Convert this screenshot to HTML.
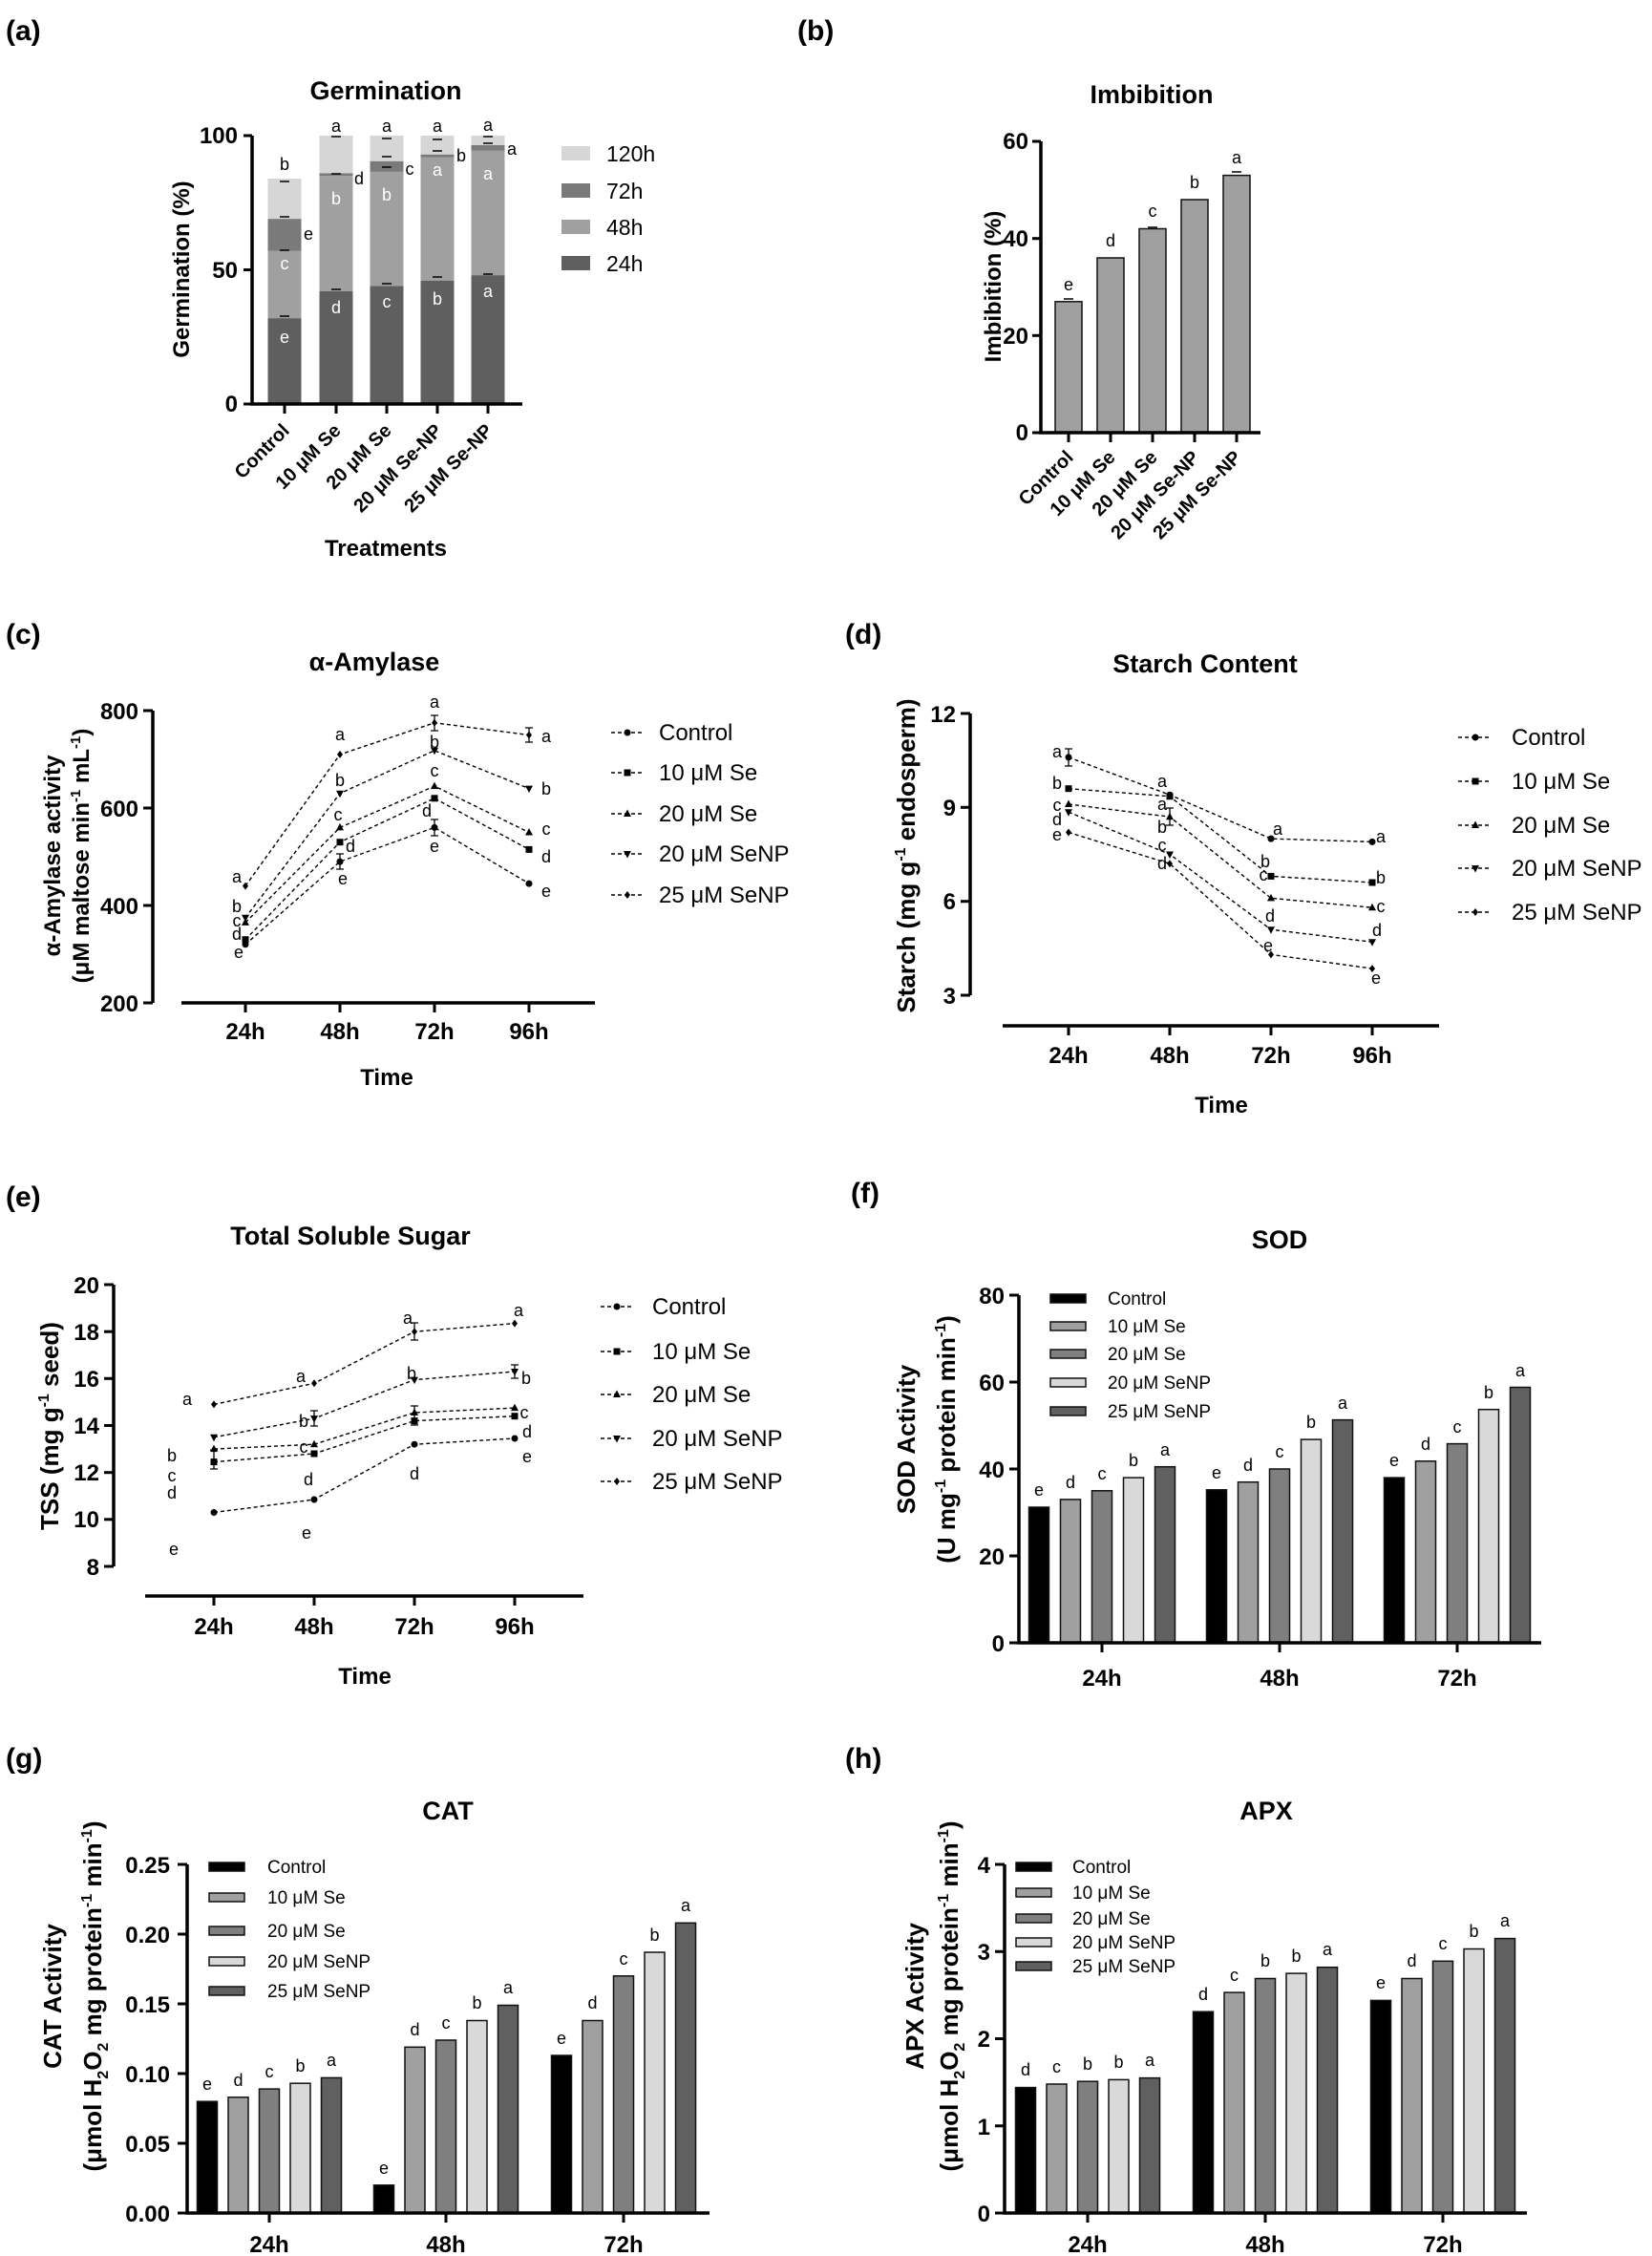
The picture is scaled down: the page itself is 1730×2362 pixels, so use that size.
<!DOCTYPE html>
<html><head><meta charset="utf-8"><style>
html,body{margin:0;padding:0;background:#fff}
svg{display:block;font-family:"Liberation Sans",Arial,sans-serif}
.ax{stroke:#000;stroke-width:3.5;fill:none}
.tk{font-size:24px;font-weight:bold}
.ti{font-size:27px;font-weight:bold;text-anchor:middle}
.yl{font-size:24px;font-weight:bold;text-anchor:middle}
.pl{font-size:30px;font-weight:bold}
.lt{font-size:18px}
.lg{font-size:24px}
.ls{font-size:19px}
.xr{font-size:20px;font-weight:bold;text-anchor:end}
.dl{stroke:#000;stroke-width:1.4;stroke-dasharray:4,3;fill:none}
.c0{fill:#000;stroke:#111;stroke-width:1.5}
.c1{fill:#a0a0a0;stroke:#111;stroke-width:1.5}
.c2{fill:#7f7f7f;stroke:#111;stroke-width:1.5}
.c3{fill:#d9d9d9;stroke:#111;stroke-width:1.5}
.c4{fill:#606060;stroke:#111;stroke-width:1.5}
.w{fill:#fff}
</style></head><body>
<svg width="1730" height="2362" viewBox="0 0 1730 2362" xmlns="http://www.w3.org/2000/svg">
<defs>
<circle id="m0" r="3.5" cx="0" cy="0"/>
<rect id="m1" x="-3.5" y="-3.5" width="7" height="7"/>
<polygon id="m2" points="0,-4.5 4,3 -4,3"/>
<polygon id="m3" points="0,4.5 4,-3 -4,-3"/>
<polygon id="m4" points="0,-4 3,0 0,4 -3,0"/>
</defs>
<rect width="1730" height="2362" fill="#fff"/>

<!-- ============ (a) ============ -->
<text class="pl" x="6" y="42">(a)</text>
<text class="ti" x="404" y="104">Germination</text>
<g>
<!-- Control -->
<rect x="280.5" y="333.1" width="35" height="89.9" fill="#5f5f5f"/>
<rect x="280.5" y="262.8" width="35" height="70.3" fill="#a0a0a0"/>
<rect x="280.5" y="229.1" width="35" height="33.7" fill="#7a7a7a"/>
<rect x="280.5" y="187" width="35" height="42.1" fill="#d6d6d6"/>
<!-- 10 Se -->
<rect x="334.5" y="305" width="35" height="118" fill="#5f5f5f"/>
<rect x="334.5" y="184.2" width="35" height="120.8" fill="#a0a0a0"/>
<rect x="334.5" y="181.3" width="35" height="2.9" fill="#7a7a7a"/>
<rect x="334.5" y="142" width="35" height="39.3" fill="#d6d6d6"/>
<!-- 20 Se -->
<rect x="387.5" y="299.4" width="35" height="123.6" fill="#5f5f5f"/>
<rect x="387.5" y="179.9" width="35" height="119.5" fill="#a0a0a0"/>
<rect x="387.5" y="168.7" width="35" height="11.2" fill="#7a7a7a"/>
<rect x="387.5" y="142" width="35" height="26.7" fill="#d6d6d6"/>
<!-- 20 Se-NP -->
<rect x="440.5" y="293.7" width="35" height="129.3" fill="#5f5f5f"/>
<rect x="440.5" y="164.5" width="35" height="129.2" fill="#a0a0a0"/>
<rect x="440.5" y="161.7" width="35" height="2.8" fill="#7a7a7a"/>
<rect x="440.5" y="142" width="35" height="19.7" fill="#d6d6d6"/>
<!-- 25 Se-NP -->
<rect x="493.5" y="288.1" width="35" height="134.9" fill="#5f5f5f"/>
<rect x="493.5" y="157.5" width="35" height="130.6" fill="#a0a0a0"/>
<rect x="493.5" y="151.8" width="35" height="5.7" fill="#7a7a7a"/>
<rect x="493.5" y="142" width="35" height="9.8" fill="#d6d6d6"/>
<g stroke="#000" stroke-width="1.5">
<line x1="293" y1="331" x2="303" y2="331"/><line x1="293" y1="262" x2="303" y2="262"/><line x1="293" y1="227" x2="303" y2="227"/><line x1="293" y1="190" x2="303" y2="190"/>
<line x1="347" y1="303" x2="357" y2="303"/><line x1="347" y1="182" x2="357" y2="182"/><line x1="347" y1="143" x2="357" y2="143"/>
<line x1="400" y1="297" x2="410" y2="297"/><line x1="400" y1="175" x2="410" y2="175"/><line x1="400" y1="164" x2="410" y2="164"/><line x1="400" y1="145" x2="410" y2="145"/>
<line x1="453" y1="290" x2="463" y2="290"/><line x1="453" y1="158" x2="463" y2="158"/><line x1="453" y1="146" x2="463" y2="146"/>
<line x1="506" y1="287" x2="516" y2="287"/><line x1="506" y1="150" x2="516" y2="150"/><line x1="506" y1="143" x2="516" y2="143"/>
</g>
<g class="lt" text-anchor="middle">
<text class="w" x="298" y="359">e</text><text class="w" x="352" y="328">d</text><text class="w" x="405" y="322">c</text><text class="w" x="458" y="319">b</text><text class="w" x="511" y="311">a</text>
<text class="w" x="298" y="282">c</text><text class="w" x="352" y="214">b</text><text class="w" x="405" y="210">b</text><text class="w" x="458" y="184">a</text><text class="w" x="511" y="188">a</text>
<text x="323" y="251">e</text><text x="376" y="193">d</text><text x="429" y="183">c</text><text x="483" y="169">b</text><text x="536" y="162">a</text>
<text x="298" y="178">b</text><text x="352" y="138">a</text><text x="405" y="138">a</text><text x="458" y="138">a</text><text x="511" y="137">a</text>
</g>
</g>
<path class="ax" d="M264,142 V423 H547"/>
<g stroke="#000" stroke-width="3"><line x1="255" y1="142" x2="264" y2="142"/><line x1="255" y1="282.5" x2="264" y2="282.5"/><line x1="255" y1="423" x2="264" y2="423"/>
<line x1="298" y1="423" x2="298" y2="433"/><line x1="352" y1="423" x2="352" y2="433"/><line x1="405" y1="423" x2="405" y2="433"/><line x1="458" y1="423" x2="458" y2="433"/><line x1="511" y1="423" x2="511" y2="433"/></g>
<g class="tk" text-anchor="end"><text x="249" y="150">100</text><text x="249" y="291">50</text><text x="249" y="431">0</text></g>
<text class="yl" transform="translate(198,282) rotate(-90)">Germination (%)</text>
<g class="xr">
<text transform="translate(304,452) rotate(-45)">Control</text>
<text transform="translate(358,452) rotate(-45)">10 μM Se</text>
<text transform="translate(411,452) rotate(-45)">20 μM Se</text>
<text transform="translate(464,452) rotate(-45)">20 μM Se-NP</text>
<text transform="translate(517,452) rotate(-45)">25 μM Se-NP</text>
</g>
<text class="yl" x="404" y="582">Treatments</text>
<rect x="588" y="153" width="30" height="15" fill="#d6d6d6"/>
<rect x="588" y="192" width="30" height="15" fill="#7a7a7a"/>
<rect x="588" y="230" width="30" height="15" fill="#a0a0a0"/>
<rect x="588" y="268" width="30" height="15" fill="#5f5f5f"/>
<g style="font-size:23px"><text x="635" y="169">120h</text><text x="635" y="208">72h</text><text x="635" y="246">48h</text><text x="635" y="284">24h</text></g>

<!-- ============ (b) ============ -->
<text class="pl" x="835" y="42">(b)</text>
<text class="ti" x="1206" y="108">Imbibition</text>
<rect class="c1" x="1105" y="315.8" width="28" height="137.2"/>
<rect class="c1" x="1149" y="270" width="28" height="183"/>
<rect class="c1" x="1193" y="239.5" width="28" height="213.5"/>
<rect class="c1" x="1237" y="209" width="28" height="244"/>
<rect class="c1" x="1281" y="183.6" width="28" height="269.4"/>
<g stroke="#000" stroke-width="1.5"><line x1="1114" y1="313" x2="1124" y2="313"/><line x1="1290" y1="180" x2="1300" y2="180"/><line x1="1202" y1="238" x2="1212" y2="238"/></g>
<g class="lt" text-anchor="middle"><text x="1119" y="304">e</text><text x="1163" y="258">d</text><text x="1207" y="227">c</text><text x="1251" y="197">b</text><text x="1295" y="171">a</text></g>
<path class="ax" d="M1090,148 V453 H1320"/>
<g stroke="#000" stroke-width="3"><line x1="1081" y1="148" x2="1090" y2="148"/><line x1="1081" y1="249.7" x2="1090" y2="249.7"/><line x1="1081" y1="351.3" x2="1090" y2="351.3"/><line x1="1081" y1="453" x2="1090" y2="453"/>
<line x1="1119" y1="453" x2="1119" y2="463"/><line x1="1163" y1="453" x2="1163" y2="463"/><line x1="1207" y1="453" x2="1207" y2="463"/><line x1="1251" y1="453" x2="1251" y2="463"/><line x1="1295" y1="453" x2="1295" y2="463"/></g>
<g class="tk" text-anchor="end"><text x="1077" y="156">60</text><text x="1077" y="258">40</text><text x="1077" y="360">20</text><text x="1077" y="461">0</text></g>
<text class="yl" transform="translate(1048,300) rotate(-90)">Imbibition (%)</text>
<g class="xr">
<text transform="translate(1125,480) rotate(-45)">Control</text>
<text transform="translate(1169,480) rotate(-45)">10 μM Se</text>
<text transform="translate(1213,480) rotate(-45)">20 μM Se</text>
<text transform="translate(1257,480) rotate(-45)">20 μM Se-NP</text>
<text transform="translate(1301,480) rotate(-45)">25 μM Se-NP</text>
</g>

<!-- ============ (c) ============ -->
<text class="pl" x="6" y="674">(c)</text>
<text class="ti" x="392" y="702">α-Amylase</text>
<polyline class="dl" points="257,988.8 356,902.1 455,866.4 554,925.1"/>
<polyline class="dl" points="257,983.7 356,881.7 455,835.8 554,889.4"/>
<polyline class="dl" points="257,965.9 356,866.4 455,823.1 554,871.5"/>
<polyline class="dl" points="257,960.8 356,830.7 455,785.8 554,825.6"/>
<polyline class="dl" points="257,927.6 356,789.9 455,756.8 554,769.5"/>
<g>
<use href="#m0" x="257" y="988.8"/><use href="#m0" x="356" y="902.1"/><use href="#m0" x="455" y="866.4"/><use href="#m0" x="554" y="925.1"/>
<use href="#m1" x="257" y="983.7"/><use href="#m1" x="356" y="881.7"/><use href="#m1" x="455" y="835.8"/><use href="#m1" x="554" y="889.4"/>
<use href="#m2" x="257" y="965.9"/><use href="#m2" x="356" y="866.4"/><use href="#m2" x="455" y="823.1"/><use href="#m2" x="554" y="871.5"/>
<use href="#m3" x="257" y="960.8"/><use href="#m3" x="356" y="830.7"/><use href="#m3" x="455" y="785.8"/><use href="#m3" x="554" y="825.6"/>
<use href="#m4" x="257" y="927.6"/><use href="#m4" x="356" y="789.9"/><use href="#m4" x="455" y="756.8"/><use href="#m4" x="554" y="769.5"/>
</g>
<g stroke="#000" stroke-width="1.3" fill="none">
<path d="M451,749 h8 M455,749 v16 M451,765 h8"/><path d="M550,762 h8 M554,762 v15 M550,777 h8"/><path d="M352,894 h8 M356,894 v16 M352,910 h8"/><path d="M451,858 h8 M455,858 v17 M451,875 h8"/>
</g>
<g class="lt" text-anchor="middle">
<text x="248" y="924">a</text><text x="248" y="955">b</text><text x="248" y="970">c</text><text x="248" y="984">d</text><text x="250" y="1003">e</text>
<text x="356" y="775">a</text><text x="356" y="823">b</text><text x="354" y="859">c</text><text x="367" y="892">d</text><text x="359" y="926">e</text>
<text x="455" y="741">a</text><text x="455" y="783">b</text><text x="455" y="813">c</text><text x="447" y="855">d</text><text x="455" y="892">e</text>
<text x="572" y="777">a</text><text x="572" y="832">b</text><text x="572" y="874">c</text><text x="572" y="903">d</text><text x="572" y="939">e</text>
</g>
<path class="ax" d="M160,744 V1050 M190,1050 H623"/>
<g stroke="#000" stroke-width="3"><line x1="150" y1="744" x2="160" y2="744"/><line x1="150" y1="846" x2="160" y2="846"/><line x1="150" y1="948" x2="160" y2="948"/><line x1="150" y1="1050" x2="160" y2="1050"/>
<line x1="257" y1="1050" x2="257" y2="1060"/><line x1="356" y1="1050" x2="356" y2="1060"/><line x1="455" y1="1050" x2="455" y2="1060"/><line x1="554" y1="1050" x2="554" y2="1060"/></g>
<g class="tk" text-anchor="end"><text x="145" y="753">800</text><text x="145" y="855">600</text><text x="145" y="957">400</text><text x="145" y="1059">200</text></g>
<g class="tk" text-anchor="middle"><text x="257" y="1088">24h</text><text x="356" y="1088">48h</text><text x="455" y="1088">72h</text><text x="554" y="1088">96h</text></g>
<text class="yl" x="405" y="1136">Time</text>
<text class="yl" transform="translate(63,896) rotate(-90)">α-Amylase activity</text>
<text class="yl" transform="translate(93,896) rotate(-90)">(μM maltose min<tspan font-size="15" dy="-9">-1</tspan><tspan dy="9"> mL</tspan><tspan font-size="15" dy="-9">-1</tspan><tspan dy="9">)</tspan></text>
<g class="dl"><line x1="640" y1="767" x2="675" y2="767"/><line x1="640" y1="809" x2="675" y2="809"/><line x1="640" y1="852" x2="675" y2="852"/><line x1="640" y1="894" x2="675" y2="894"/><line x1="640" y1="937" x2="675" y2="937"/></g>
<use href="#m0" x="657" y="767"/><use href="#m1" x="657" y="809"/><use href="#m2" x="657" y="852"/><use href="#m3" x="657" y="894"/><use href="#m4" x="657" y="937"/>
<g class="lg"><text x="690" y="775">Control</text><text x="690" y="817">10 μM Se</text><text x="690" y="860">20 μM Se</text><text x="690" y="902">20 μM SeNP</text><text x="690" y="945">25 μM SeNP</text></g>

<!-- ============ (d) ============ -->
<text class="pl" x="885" y="674">(d)</text>
<text class="ti" x="1262" y="704">Starch Content</text>
<polyline class="dl" points="1119,792.9 1225,832.2 1331,878.1 1437,881.4"/>
<polyline class="dl" points="1119,825.7 1225,833.8 1331,917.4 1437,924"/>
<polyline class="dl" points="1119,842 1225,855.2 1331,940.4 1437,950.2"/>
<polyline class="dl" points="1119,850.2 1225,894.5 1331,973.2 1437,986.3"/>
<polyline class="dl" points="1119,871.5 1225,904.3 1331,999.4 1437,1014.1"/>
<g>
<use href="#m0" x="1119" y="792.9"/><use href="#m0" x="1225" y="832.2"/><use href="#m0" x="1331" y="878.1"/><use href="#m0" x="1437" y="881.4"/>
<use href="#m1" x="1119" y="825.7"/><use href="#m1" x="1225" y="833.8"/><use href="#m1" x="1331" y="917.4"/><use href="#m1" x="1437" y="924"/>
<use href="#m2" x="1119" y="842"/><use href="#m2" x="1225" y="855.2"/><use href="#m2" x="1331" y="940.4"/><use href="#m2" x="1437" y="950.2"/>
<use href="#m3" x="1119" y="850.2"/><use href="#m3" x="1225" y="894.5"/><use href="#m3" x="1331" y="973.2"/><use href="#m3" x="1437" y="986.3"/>
<use href="#m4" x="1119" y="871.5"/><use href="#m4" x="1225" y="904.3"/><use href="#m4" x="1331" y="999.4"/><use href="#m4" x="1437" y="1014.1"/>
</g>
<g stroke="#000" stroke-width="1.3" fill="none"><path d="M1115,784 h8 M1119,784 v18 M1115,802 h8"/><path d="M1221,846 h8 M1225,846 v18 M1221,864 h8"/></g>
<g class="lt" text-anchor="middle">
<text x="1107" y="793">a</text><text x="1107" y="826">b</text><text x="1107" y="849">c</text><text x="1107" y="864">d</text><text x="1107" y="880">e</text>
<text x="1217" y="824">a</text><text x="1217" y="848">a</text><text x="1217" y="872">b</text><text x="1217" y="891">c</text><text x="1217" y="910">d</text>
<text x="1338" y="874">a</text><text x="1325" y="908">b</text><text x="1323" y="922">c</text><text x="1330" y="965">d</text><text x="1328" y="996">e</text>
<text x="1446" y="882">a</text><text x="1446" y="925">b</text><text x="1446" y="955">c</text><text x="1442" y="980">d</text><text x="1441" y="1030">e</text>
</g>
<path class="ax" d="M1016,747 V1042 M1050,1074 H1507"/>
<g stroke="#000" stroke-width="3"><line x1="1006" y1="747" x2="1016" y2="747"/><line x1="1006" y1="845.3" x2="1016" y2="845.3"/><line x1="1006" y1="943.7" x2="1016" y2="943.7"/><line x1="1006" y1="1042" x2="1016" y2="1042"/>
<line x1="1119" y1="1074" x2="1119" y2="1084"/><line x1="1225" y1="1074" x2="1225" y2="1084"/><line x1="1331" y1="1074" x2="1331" y2="1084"/><line x1="1437" y1="1074" x2="1437" y2="1084"/></g>
<g class="tk" text-anchor="end"><text x="1001" y="756">12</text><text x="1001" y="854">9</text><text x="1001" y="952">6</text><text x="1001" y="1051">3</text></g>
<g class="tk" text-anchor="middle"><text x="1119" y="1113">24h</text><text x="1225" y="1113">48h</text><text x="1331" y="1113">72h</text><text x="1437" y="1113">96h</text></g>
<text class="yl" x="1279" y="1165">Time</text>
<text class="yl" style="font-size:26px" transform="translate(958,896) rotate(-90)">Starch (mg g<tspan font-size="16" dy="-10">-1</tspan><tspan dy="10"> endosperm)</tspan></text>
<g class="dl"><line x1="1527" y1="772" x2="1562" y2="772"/><line x1="1527" y1="818" x2="1562" y2="818"/><line x1="1527" y1="864" x2="1562" y2="864"/><line x1="1527" y1="909" x2="1562" y2="909"/><line x1="1527" y1="955" x2="1562" y2="955"/></g>
<use href="#m0" x="1545" y="772"/><use href="#m1" x="1545" y="818"/><use href="#m2" x="1545" y="864"/><use href="#m3" x="1545" y="909"/><use href="#m4" x="1545" y="955"/>
<g class="lg"><text x="1583" y="780">Control</text><text x="1583" y="826">10 μM Se</text><text x="1583" y="872">20 μM Se</text><text x="1583" y="917">20 μM SeNP</text><text x="1583" y="963">25 μM SeNP</text></g>

<!-- ============ (e) ============ -->
<text class="pl" x="6" y="1263">(e)</text>
<text class="ti" x="367" y="1303">Total Soluble Sugar</text>
<polyline class="dl" points="224,1583.5 329,1570 434,1512.2 539,1506"/>
<polyline class="dl" points="224,1530.6 329,1522 434,1487.6 539,1482.7"/>
<polyline class="dl" points="224,1517.1 329,1512.2 434,1479 539,1474.1"/>
<polyline class="dl" points="224,1504.8 329,1485.1 434,1444.6 539,1436"/>
<polyline class="dl" points="224,1470.4 329,1448.3 434,1394.2 539,1385.6"/>
<g>
<use href="#m0" x="224" y="1583.5"/><use href="#m0" x="329" y="1570"/><use href="#m0" x="434" y="1512.2"/><use href="#m0" x="539" y="1506"/>
<use href="#m1" x="224" y="1530.6"/><use href="#m1" x="329" y="1522"/><use href="#m1" x="434" y="1487.6"/><use href="#m1" x="539" y="1482.7"/>
<use href="#m2" x="224" y="1517.1"/><use href="#m2" x="329" y="1512.2"/><use href="#m2" x="434" y="1479"/><use href="#m2" x="539" y="1474.1"/>
<use href="#m3" x="224" y="1504.8"/><use href="#m3" x="329" y="1485.1"/><use href="#m3" x="434" y="1444.6"/><use href="#m3" x="539" y="1436"/>
<use href="#m4" x="224" y="1470.4"/><use href="#m4" x="329" y="1448.3"/><use href="#m4" x="434" y="1394.2"/><use href="#m4" x="539" y="1385.6"/>
</g>
<g stroke="#000" stroke-width="1.3" fill="none"><path d="M430,1385 h8 M434,1385 v18 M430,1403 h8"/><path d="M220,1518 h8 M224,1518 v20 M220,1538 h8"/><path d="M325,1477 h8 M329,1477 v16 M325,1493 h8"/><path d="M430,1472 h8 M434,1472 v20 M430,1492 h8"/><path d="M535,1429 h8 M539,1429 v14 M535,1443 h8"/></g>
<g class="lt" text-anchor="middle">
<text x="196" y="1471">a</text><text x="180" y="1530">b</text><text x="180" y="1551">c</text><text x="180" y="1569">d</text><text x="182" y="1628">e</text>
<text x="315" y="1447">a</text><text x="318" y="1494">b</text><text x="318" y="1521">c</text><text x="323" y="1555">d</text><text x="321" y="1611">e</text>
<text x="427" y="1386">a</text><text x="431" y="1444">b</text><text x="434" y="1549">d</text>
<text x="543" y="1378">a</text><text x="551" y="1449">b</text><text x="549" y="1485">c</text><text x="552" y="1505">d</text><text x="552" y="1531">e</text>
</g>
<path class="ax" d="M119,1345 V1640 M152,1671 H611"/>
<g stroke="#000" stroke-width="3">
<line x1="109" y1="1345" x2="119" y2="1345"/><line x1="109" y1="1394.2" x2="119" y2="1394.2"/><line x1="109" y1="1443.3" x2="119" y2="1443.3"/><line x1="109" y1="1492.5" x2="119" y2="1492.5"/><line x1="109" y1="1541.7" x2="119" y2="1541.7"/><line x1="109" y1="1590.8" x2="119" y2="1590.8"/><line x1="109" y1="1640" x2="119" y2="1640"/>
<line x1="224" y1="1671" x2="224" y2="1681"/><line x1="329" y1="1671" x2="329" y2="1681"/><line x1="434" y1="1671" x2="434" y2="1681"/><line x1="539" y1="1671" x2="539" y2="1681"/></g>
<g class="tk" text-anchor="end"><text x="104" y="1354">20</text><text x="104" y="1403">18</text><text x="104" y="1452">16</text><text x="104" y="1501">14</text><text x="104" y="1550">12</text><text x="104" y="1599">10</text><text x="104" y="1649">8</text></g>
<g class="tk" text-anchor="middle"><text x="224" y="1711">24h</text><text x="329" y="1711">48h</text><text x="434" y="1711">72h</text><text x="539" y="1711">96h</text></g>
<text class="yl" x="382" y="1763">Time</text>
<text class="yl" style="font-size:26px" transform="translate(61,1493) rotate(-90)">TSS (mg g<tspan font-size="16" dy="-10">-1</tspan><tspan dy="10"> seed)</tspan></text>
<g class="dl"><line x1="629" y1="1368" x2="664" y2="1368"/><line x1="629" y1="1415" x2="664" y2="1415"/><line x1="629" y1="1460" x2="664" y2="1460"/><line x1="629" y1="1506" x2="664" y2="1506"/><line x1="629" y1="1551" x2="664" y2="1551"/></g>
<use href="#m0" x="646" y="1368"/><use href="#m1" x="646" y="1415"/><use href="#m2" x="646" y="1460"/><use href="#m3" x="646" y="1506"/><use href="#m4" x="646" y="1551"/>
<g class="lg"><text x="683" y="1376">Control</text><text x="683" y="1423">10 μM Se</text><text x="683" y="1468">20 μM Se</text><text x="683" y="1514">20 μM SeNP</text><text x="683" y="1559">25 μM SeNP</text></g>

<!-- ============ (f) ============ -->
<text class="pl" x="891" y="1259">(f)</text>
<text class="ti" x="1340" y="1307">SOD</text>
<g>
<rect class="c0" x="1077.5" y="1578" width="21" height="142"/><rect class="c1" x="1110.5" y="1569.9" width="21" height="150.1"/><rect class="c2" x="1143.5" y="1560.8" width="21" height="159.2"/><rect class="c3" x="1176.5" y="1547.1" width="21" height="172.9"/><rect class="c4" x="1209.5" y="1535.7" width="21" height="184.3"/>
<rect class="c0" x="1263.5" y="1559.8" width="21" height="160.2"/><rect class="c1" x="1296.5" y="1551.7" width="21" height="168.3"/><rect class="c2" x="1329.5" y="1538" width="21" height="182"/><rect class="c3" x="1362.5" y="1507.1" width="21" height="212.9"/><rect class="c4" x="1395.5" y="1486.6" width="21" height="233.4"/>
<rect class="c0" x="1449.5" y="1547.1" width="21" height="172.9"/><rect class="c1" x="1482.5" y="1529.8" width="21" height="190.2"/><rect class="c2" x="1515.5" y="1511.6" width="21" height="208.4"/><rect class="c3" x="1548.5" y="1475.7" width="21" height="244.3"/><rect class="c4" x="1581.5" y="1452.5" width="21" height="267.5"/>
</g>
<g class="lt" text-anchor="middle">
<text x="1088" y="1566">e</text><text x="1121" y="1558">d</text><text x="1154" y="1549">c</text><text x="1187" y="1535">b</text><text x="1220" y="1524">a</text>
<text x="1274" y="1548">e</text><text x="1307" y="1540">d</text><text x="1340" y="1526">c</text><text x="1373" y="1495">b</text><text x="1406" y="1475">a</text>
<text x="1460" y="1535">e</text><text x="1493" y="1518">d</text><text x="1526" y="1500">c</text><text x="1559" y="1464">b</text><text x="1592" y="1441">a</text>
</g>
<path class="ax" d="M1067,1356 V1720 H1614"/>
<g stroke="#000" stroke-width="3"><line x1="1057" y1="1356" x2="1067" y2="1356"/><line x1="1057" y1="1447" x2="1067" y2="1447"/><line x1="1057" y1="1538" x2="1067" y2="1538"/><line x1="1057" y1="1629" x2="1067" y2="1629"/><line x1="1057" y1="1720" x2="1067" y2="1720"/>
<line x1="1154" y1="1720" x2="1154" y2="1730"/><line x1="1340" y1="1720" x2="1340" y2="1730"/><line x1="1526" y1="1720" x2="1526" y2="1730"/></g>
<g class="tk" text-anchor="end"><text x="1052" y="1365">80</text><text x="1052" y="1456">60</text><text x="1052" y="1547">40</text><text x="1052" y="1638">20</text><text x="1052" y="1729">0</text></g>
<g class="tk" text-anchor="middle"><text x="1154" y="1765">24h</text><text x="1340" y="1765">48h</text><text x="1526" y="1765">72h</text></g>
<text class="yl" style="font-size:26px" transform="translate(958,1507) rotate(-90)">SOD Activity</text>
<text class="yl" style="font-size:26px" transform="translate(1000,1507) rotate(-90)">(U mg<tspan font-size="16" dy="-10">-1</tspan><tspan dy="10"> protein min</tspan><tspan font-size="16" dy="-10">-1</tspan><tspan dy="10">)</tspan></text>
<rect class="c0" x="1100" y="1355" width="37" height="9"/><rect class="c1" x="1100" y="1384" width="37" height="9"/><rect class="c2" x="1100" y="1413" width="37" height="9"/><rect class="c3" x="1100" y="1443" width="37" height="9"/><rect class="c4" x="1100" y="1473" width="37" height="9"/>
<g class="ls"><text x="1160" y="1366">Control</text><text x="1160" y="1395">10 μM Se</text><text x="1160" y="1424">20 μM Se</text><text x="1160" y="1454">20 μM SeNP</text><text x="1160" y="1484">25 μM SeNP</text></g>

<!-- ============ (g) ============ -->
<text class="pl" x="6" y="1851">(g)</text>
<text class="ti" x="469" y="1905">CAT</text>
<g>
<rect class="c0" x="206.5" y="2200.2" width="21" height="116.8"/><rect class="c1" x="239" y="2195.8" width="21" height="121.2"/><rect class="c2" x="271.5" y="2187.1" width="21" height="129.9"/><rect class="c3" x="304" y="2181.2" width="21" height="135.8"/><rect class="c4" x="336.5" y="2175.4" width="21" height="141.6"/>
<rect class="c0" x="391.5" y="2287.8" width="21" height="29.2"/><rect class="c1" x="424" y="2143.3" width="21" height="173.7"/><rect class="c2" x="456.5" y="2136" width="21" height="181"/><rect class="c3" x="489" y="2115.5" width="21" height="201.5"/><rect class="c4" x="521.5" y="2099.5" width="21" height="217.5"/>
<rect class="c0" x="577.5" y="2152" width="21" height="165"/><rect class="c1" x="610" y="2115.5" width="21" height="201.5"/><rect class="c2" x="642.5" y="2068.8" width="21" height="248.2"/><rect class="c3" x="675" y="2044" width="21" height="273"/><rect class="c4" x="707.5" y="2013.3" width="21" height="303.7"/>
</g>
<g class="lt" text-anchor="middle">
<text x="217" y="2188">e</text><text x="249.5" y="2184">d</text><text x="282" y="2175">c</text><text x="314.5" y="2169">b</text><text x="347" y="2163">a</text>
<text x="402" y="2276">e</text><text x="434.5" y="2131">d</text><text x="467" y="2124">c</text><text x="499.5" y="2103">b</text><text x="532" y="2087">a</text>
<text x="588" y="2140">e</text><text x="620.5" y="2103">d</text><text x="653" y="2057">c</text><text x="685.5" y="2032">b</text><text x="718" y="2001">a</text>
</g>
<path class="ax" d="M196,1952 V2317 H743"/>
<g stroke="#000" stroke-width="3"><line x1="186" y1="1952" x2="196" y2="1952"/><line x1="186" y1="2025" x2="196" y2="2025"/><line x1="186" y1="2098" x2="196" y2="2098"/><line x1="186" y1="2171" x2="196" y2="2171"/><line x1="186" y1="2244" x2="196" y2="2244"/><line x1="186" y1="2317" x2="196" y2="2317"/>
<line x1="282" y1="2317" x2="282" y2="2327"/><line x1="467" y1="2317" x2="467" y2="2327"/><line x1="653" y1="2317" x2="653" y2="2327"/></g>
<g class="tk" text-anchor="end"><text x="178" y="1961">0.25</text><text x="178" y="2034">0.20</text><text x="178" y="2107">0.15</text><text x="178" y="2180">0.10</text><text x="178" y="2253">0.05</text><text x="178" y="2326">0.00</text></g>
<g class="tk" text-anchor="middle"><text x="282" y="2358">24h</text><text x="467" y="2358">48h</text><text x="653" y="2358">72h</text></g>
<text class="yl" style="font-size:26px" transform="translate(64,2090) rotate(-90)">CAT Activity</text>
<text class="yl" style="font-size:26px" transform="translate(106,2090) rotate(-90)">(μmol H<tspan font-size="16" dy="7">2</tspan><tspan dy="-7">O</tspan><tspan font-size="16" dy="7">2</tspan><tspan dy="-7"> mg protein</tspan><tspan font-size="16" dy="-10">-1</tspan><tspan dy="10"> min</tspan><tspan font-size="16" dy="-10">-1</tspan><tspan dy="10">)</tspan></text>
<rect class="c0" x="219" y="1950" width="37" height="9"/><rect class="c1" x="219" y="1982" width="37" height="9"/><rect class="c2" x="219" y="2017" width="37" height="9"/><rect class="c3" x="219" y="2049" width="37" height="9"/><rect class="c4" x="219" y="2080" width="37" height="9"/>
<g class="ls"><text x="280" y="1961">Control</text><text x="280" y="1993">10 μM Se</text><text x="280" y="2028">20 μM Se</text><text x="280" y="2060">20 μM SeNP</text><text x="280" y="2091">25 μM SeNP</text></g>

<!-- ============ (h) ============ -->
<text class="pl" x="885" y="1851">(h)</text>
<text class="ti" x="1326" y="1905">APX</text>
<g>
<rect class="c0" x="1063.5" y="2185.6" width="21" height="131.4"/><rect class="c1" x="1096" y="2182" width="21" height="135"/><rect class="c2" x="1128.5" y="2179.2" width="21" height="137.8"/><rect class="c3" x="1161" y="2177.4" width="21" height="139.6"/><rect class="c4" x="1193.5" y="2175.6" width="21" height="141.4"/>
<rect class="c0" x="1249.5" y="2106.2" width="21" height="210.8"/><rect class="c1" x="1282" y="2086.1" width="21" height="230.9"/><rect class="c2" x="1314.5" y="2071.5" width="21" height="245.5"/><rect class="c3" x="1347" y="2066.1" width="21" height="250.9"/><rect class="c4" x="1379.5" y="2059.7" width="21" height="257.3"/>
<rect class="c0" x="1435.5" y="2094.4" width="21" height="222.6"/><rect class="c1" x="1468" y="2071.5" width="21" height="245.5"/><rect class="c2" x="1500.5" y="2053.3" width="21" height="263.7"/><rect class="c3" x="1533" y="2040.5" width="21" height="276.5"/><rect class="c4" x="1565.5" y="2029.6" width="21" height="287.4"/>
</g>
<g class="lt" text-anchor="middle">
<text x="1074" y="2173">d</text><text x="1106.5" y="2170">c</text><text x="1139" y="2167">b</text><text x="1171.5" y="2165">b</text><text x="1204" y="2163">a</text>
<text x="1260" y="2094">d</text><text x="1292.5" y="2074">c</text><text x="1325" y="2059">b</text><text x="1357.5" y="2054">b</text><text x="1390" y="2047">a</text>
<text x="1446" y="2082">e</text><text x="1478.5" y="2059">d</text><text x="1511" y="2041">c</text><text x="1543.5" y="2028">b</text><text x="1576" y="2017">a</text>
</g>
<path class="ax" d="M1052,1952 V2317 H1599"/>
<g stroke="#000" stroke-width="3"><line x1="1042" y1="1952" x2="1052" y2="1952"/><line x1="1042" y1="2043.25" x2="1052" y2="2043.25"/><line x1="1042" y1="2134.5" x2="1052" y2="2134.5"/><line x1="1042" y1="2225.75" x2="1052" y2="2225.75"/><line x1="1042" y1="2317" x2="1052" y2="2317"/>
<line x1="1139" y1="2317" x2="1139" y2="2327"/><line x1="1325" y1="2317" x2="1325" y2="2327"/><line x1="1511" y1="2317" x2="1511" y2="2327"/></g>
<g class="tk" text-anchor="end"><text x="1037" y="1961">4</text><text x="1037" y="2052">3</text><text x="1037" y="2143">2</text><text x="1037" y="2235">1</text><text x="1037" y="2326">0</text></g>
<g class="tk" text-anchor="middle"><text x="1139" y="2358">24h</text><text x="1325" y="2358">48h</text><text x="1511" y="2358">72h</text></g>
<text class="yl" style="font-size:26px" transform="translate(967,2090) rotate(-90)">APX Activity</text>
<text class="yl" style="font-size:26px" transform="translate(1003,2090) rotate(-90)">(μmol H<tspan font-size="16" dy="7">2</tspan><tspan dy="-7">O</tspan><tspan font-size="16" dy="7">2</tspan><tspan dy="-7"> mg protein</tspan><tspan font-size="16" dy="-10">-1</tspan><tspan dy="10"> min</tspan><tspan font-size="16" dy="-10">-1</tspan><tspan dy="10">)</tspan></text>
<rect class="c0" x="1064" y="1950" width="37" height="9"/><rect class="c1" x="1064" y="1977" width="37" height="9"/><rect class="c2" x="1064" y="2004" width="37" height="9"/><rect class="c3" x="1064" y="2029" width="37" height="9"/><rect class="c4" x="1064" y="2054" width="37" height="9"/>
<g class="ls"><text x="1123" y="1961">Control</text><text x="1123" y="1988">10 μM Se</text><text x="1123" y="2015">20 μM Se</text><text x="1123" y="2040">20 μM SeNP</text><text x="1123" y="2065">25 μM SeNP</text></g>
</svg>
</body></html>
